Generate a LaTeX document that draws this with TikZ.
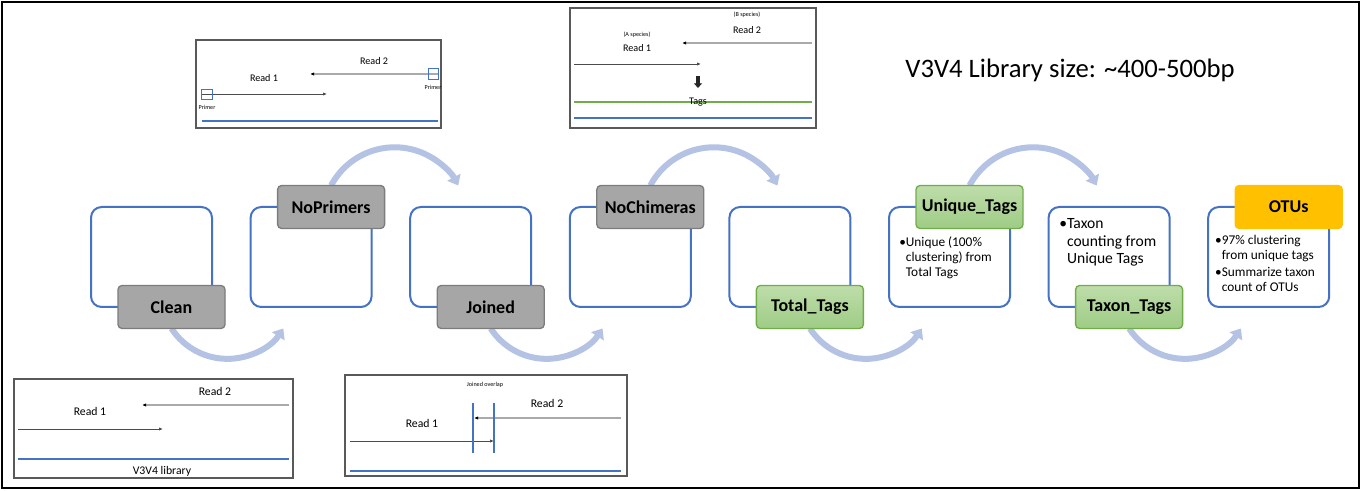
\documentclass[tikz,border=0pt]{standalone}
\usepackage{fontspec}
\setmainfont{Carlito}
\usetikzlibrary{positioning,arrows.meta,backgrounds}

\definecolor{boxblue}{RGB}{68,114,196}
\definecolor{flowblue}{RGB}{180,194,228}
\definecolor{labelgray}{RGB}{166,166,166}
\definecolor{labeledge}{RGB}{124,124,124}
\definecolor{greentop}{RGB}{190,221,170}
\definecolor{greenbot}{RGB}{158,204,133}
\definecolor{greenedge}{RGB}{112,173,71}
\definecolor{otuorange}{RGB}{255,192,0}
\definecolor{readgray}{RGB}{170,170,170}
\definecolor{framegray}{RGB}{89,89,89}
\definecolor{taggreen}{RGB}{112,173,71}

\newcommand{\bulletpad}{\phantom{\textbullet}}

\begin{document}
\begin{tikzpicture}[x=0.75pt, y=-0.75pt, % Set pixel units, y pointing down
	stepbox/.style={draw=boxblue, line width=1.5pt, rounded corners=8pt, outer sep=0pt, minimum width=90.75pt, minimum height=75pt},
	steplabel/.style={rounded corners=3pt, line width=1pt, outer sep=0pt, minimum width=80.25pt, minimum height=32.25pt, font=\fontsize{13.5}{16}\selectfont\bfseries},
	graylabel/.style={steplabel, fill=labelgray, draw=labeledge},
	greenlabel/.style={steplabel, top color=greentop, bottom color=greenbot, draw=greenedge},
	otulabel/.style={steplabel, fill=otuorange, draw=otuorange},
	flow/.style={draw=flowblue, line width=4.5pt, -{Triangle[width=11pt,length=7pt]}},
	inset/.style={draw=framegray, line width=0.8pt},
	readone/.style={draw=black!70, line width=0.6pt, -{Latex[length=3pt,width=2.5pt]}},
	readtwo/.style={draw=readgray, line width=1.1pt, -{Latex[length=3pt,width=2.5pt,color=black]}},
	lib/.style={draw=boxblue, line width=1.5pt},
	libthin/.style={draw=boxblue, line width=0.9pt},
	primer/.style={draw=boxblue, line width=0.6pt},
	readtext/.style={font=\fontsize{7.6}{9}\selectfont},
	bigreadtext/.style={font=\fontsize{8.8}{10}\selectfont},
	tinytext/.style={font=\fontsize{4.6}{5}\selectfont},
	bodytext/.style={align=left, inner sep=0pt, anchor=north west}]

	\useasboundingbox (0,0) rectangle (1362,491);
	% Outer frame
	\draw[line width=1.5pt] (2,2) rectangle (1359,488);

	% Title
	\node[font=\fontsize{20}{24}\selectfont] (title) at (1070,70) {V3V4 Library size: \textasciitilde400-500bp};

	% Step boxes
	\node[stepbox] (b1) at (151.5,257) {};
	\node[stepbox] (b2) at (311.1,257) {};
	\node[stepbox] (b3) at (470.7,257) {};
	\node[stepbox] (b4) at (630.3,257) {};
	\node[stepbox] (b5) at (789.9,257) {};
	\node[stepbox] (b6) at (949.5,257) {};
	\node[stepbox] (b7) at (1109.1,257) {};
	\node[stepbox] (b8) at (1268.7,257) {};

	% Step labels
	\node[graylabel] (clean) at ([xshift=15pt]b1.south) {Clean};
	\node[graylabel] (noprimers) at ([xshift=15pt]b2.north) {NoPrimers};
	\node[graylabel] (joined) at ([xshift=15pt]b3.south) {Joined};
	\node[graylabel] (nochimeras) at ([xshift=15pt]b4.north) {NoChimeras};
	\node[greenlabel] (totaltags) at ([xshift=15pt]b5.south) {Total\_Tags};
	\node[greenlabel] (uniquetags) at ([xshift=15pt]b6.north) {Unique\_Tags};
	\node[greenlabel] (taxontags) at ([xshift=15pt]b7.south) {Taxon\_Tags};
	\node[otulabel] (otus) at ([xshift=15pt]b8.north) {OTUs};

	% Box texts
	\node[bodytext, font=\fontsize{10}{11.25}\selectfont] (uniquetext) at ([xshift=7.5pt,yshift=-22pt]b6.north west)
		{\textbullet Unique (100\%\\\bulletpad clustering) from\\\bulletpad Total Tags};
	\node[bodytext, font=\fontsize{11.7}{13.1}\selectfont] (taxontext) at ([xshift=7.8pt,yshift=-8.5pt]b7.north west)
		{\textbullet Taxon\\\bulletpad counting from\\\bulletpad Unique Tags};
	\node[bodytext, font=\fontsize{10}{11.25}\selectfont] (otutext) at ([xshift=5pt,yshift=-21pt]b8.north west)
		{\textbullet 97\% clustering\\\bulletpad from unique tags\\[1.7pt]\textbullet Summarize taxon\\\bulletpad count of OTUs};

	% Flow arrows
	\begin{scope}[on background layer]
		\draw[flow] (clean.south) arc[start angle=213, end angle=327, radius=50pt];
		\draw[flow] (noprimers.north) arc[start angle=152, end angle=28, radius=54pt];
		\draw[flow] (joined.south) arc[start angle=213, end angle=327, radius=50pt];
		\draw[flow] (nochimeras.north) arc[start angle=152, end angle=28, radius=54pt];
		\draw[flow] (totaltags.south) arc[start angle=213, end angle=327, radius=50pt];
		\draw[flow] (uniquetags.north) arc[start angle=152, end angle=28, radius=54pt];
		\draw[flow] (taxontags.south) arc[start angle=213, end angle=327, radius=50pt];
	\end{scope}

	% Inset for Clean
	\draw[inset] (14,379) rectangle (293,478);
	\node[bigreadtext] (cread2) at (215,391) {Read 2};
	\draw[readtwo] (289,405) -- (142,405);
	\node[bigreadtext] (cread1) at (90,411) {Read 1};
	\draw[readone] (18,429) -- (163,429);
	\draw[libthin] (18,459) -- (289,459);
	\node[bigreadtext] (clib) at (162,471) {V3V4 library};

	% Inset for NoPrimers
	\draw[inset] (196,40) rectangle (441,128);
	\node[readtext] (aread2) at (374,61) {Read 2};
	\draw[readtwo] (438,74) -- (310,74);
	\draw[primer] (428,68) rectangle (438,79);
	\node[tinytext] (aprimer2) at (433,87) {Primer};
	\node[readtext] (aread1) at (264,78) {Read 1};
	\draw[readone] (202,94) -- (327,94);
	\draw[primer] (201,89) rectangle (212,99);
	\node[tinytext] (aprimer1) at (207,107) {Primer};
	\draw[lib] (202,121) -- (438,121);

	% Inset for Joined
	\draw[inset] (345,375) rectangle (627,476);
	\node[tinytext] (joverlap) at (485,385) {Joined overlap};
	\node[bigreadtext] (jread2) at (547,403) {Read 2};
	\draw[readtwo] (621,418) -- (474,418);
	\node[bigreadtext] (jread1) at (422,423) {Read 1};
	\draw[readone] (350,441) -- (494,441);
	\draw[libthin] (473,403) -- (473,453);
	\draw[libthin] (494,403) -- (494,453);
	\draw[lib] (350,471) -- (621,471);

	% Inset for NoChimeras
	\draw[inset] (570,8) rectangle (816,128);
	\node[tinytext] (bspecies) at (747,15) {(B species)};
	\node[readtext] (bread2) at (747,30) {Read 2};
	\draw[readtwo] (812,43) -- (682,43);
	\node[tinytext] (aspecies) at (637,35) {(A species)};
	\node[readtext] (bread1) at (637,48) {Read 1};
	\draw[readone] (574,64) -- (701,64);
	\draw[-{Triangle[width=6pt,length=3.5pt]}, line width=2.6pt, black!85] (698,76) -- (698,88);
	\draw[draw=taggreen, line width=1.1pt] (574,102) -- (812,102);
	\node[readtext] (btags) at (698,102) {Tags};
	\draw[libthin] (574,118) -- (812,118);
\end{tikzpicture}
\end{document}
